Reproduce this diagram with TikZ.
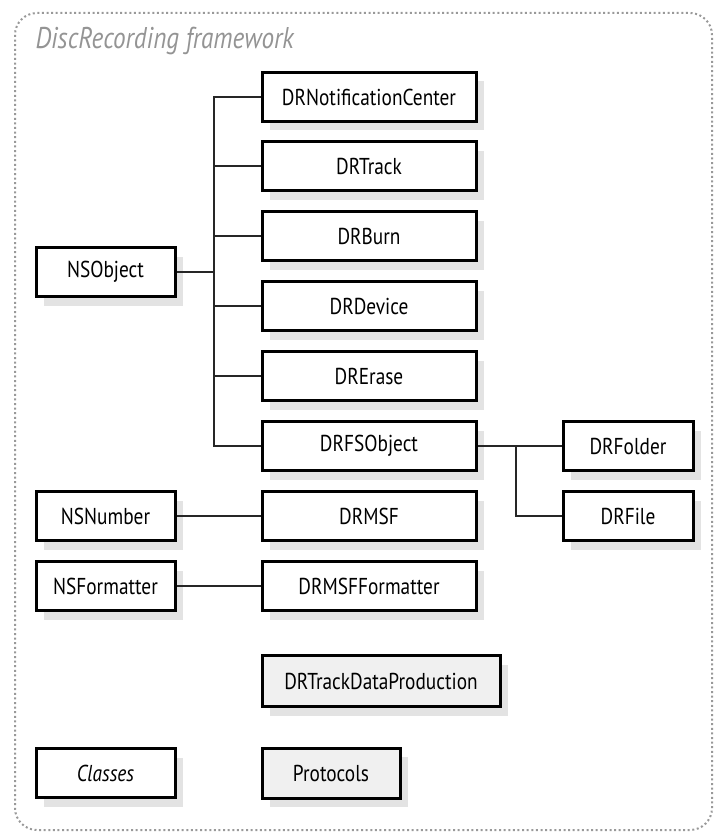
\documentclass[tikz,border=0pt]{standalone}
\usepackage{fontspec}
\setmainfont[FakeStretch=0.84]{PT Sans}
\usepackage{tikz}
\usetikzlibrary{shadows,positioning}

\tikzset{
  cls/.style={draw=black, line width=3pt, fill=white, minimum width=214pt, minimum height=49pt,
    inner sep=0pt, font=\fontsize{23}{26}\selectfont,
    drop shadow={shadow xshift=8pt, shadow yshift=-9pt, fill=black!22}},
  leftcls/.style={cls, minimum width=139pt},
  proto/.style={cls, fill=black!6},
  link/.style={line width=2pt, black!85},
}

\begin{document}
\begin{tikzpicture}[x=1pt,y=-1pt]
\useasboundingbox (0,0) rectangle (714,832);
% frame
\draw[black!40, line width=2pt, dash pattern=on 2pt off 2.6pt, rounded corners=22pt] (15,13) rectangle (712,830);
\node[anchor=west, text=black!42, font=\fontsize{30}{34}\selectfont\itshape] (title) at (32,41) {DiscRecording framework};

% left column
\node[leftcls] (nsobject) at (105.5,272) {NSObject};
\node[leftcls] (nsnumber) at (105.5,516) {NSNumber};
\node[leftcls] (nsformatter) at (105.5,586) {NSFormatter};
\node[leftcls] (classes) at (105.5,773) {\itshape Classes};

% DiscRecording classes
\node[cls] (notif) at (369,97) {DRNotificationCenter};
\node[cls] (track) at (369,166) {DRTrack};
\node[cls] (burn) at (369,236) {DRBurn};
\node[cls] (device) at (369,306) {DRDevice};
\node[cls] (erase) at (369,376) {DRErase};
\node[cls] (fsobject) at (369,446) {DRFSObject};
\node[cls] (msf) at (369,516) {DRMSF};
\node[cls] (msffmt) at (369,586) {DRMSFFormatter};
\node[proto, minimum width=238pt, minimum height=51pt] (trackdata) at (381,681) {DRTrackDataProduction};
\node[proto, minimum width=138pt, minimum height=50pt] (protocols) at (331,773) {Protocols};
\node[cls, minimum width=130pt] (folder) at (628,446) {DRFolder};
\node[cls, minimum width=130pt] (file) at (628,516) {DRFile};

% connectors
\coordinate (trunk) at (214,272);
\draw[link] (nsobject.east) -- (trunk);
\draw[link] (notif.west) -| (trunk) |- (fsobject.west);
\foreach \n in {track,burn,device,erase}
  \draw[link] (\n.west) -- (\n.west -| trunk);
\coordinate (fstrunk) at (516,446);
\draw[link] (fsobject.east) -- (folder.west);
\draw[link] (fstrunk) |- (file.west);
\draw[link] (nsnumber) -- (msf);
\draw[link] (nsformatter) -- (msffmt);
\end{tikzpicture}
\end{document}
